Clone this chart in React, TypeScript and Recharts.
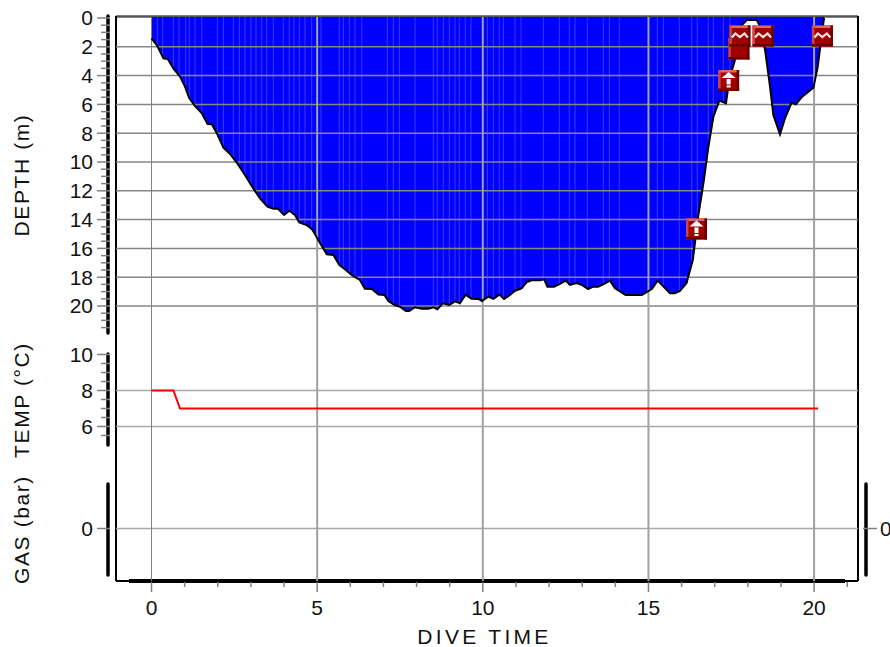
import React from "react";
import { ComposedChart, Area, Line, Scatter, XAxis, YAxis, ReferenceLine } from "recharts";

const profileTimes = [0,0.16,0.36,0.49,0.66,0.86,1.01,1.14,1.31,1.52,1.69,1.82,1.97,2.17,2.37,2.59,2.82,3.07,3.28,3.5,3.68,3.81,4.0,4.16,4.33,4.46,4.68,4.85,5.04,5.29,5.49,5.67,5.84,6.04,6.29,6.44,6.65,6.85,7.03,7.15,7.35,7.5,7.68,7.78,7.95,8.16,8.36,8.51,8.63,8.79,8.99,9.16,9.31,9.48,9.66,9.87,9.97,10.17,10.32,10.5,10.64,10.82,10.97,11.17,11.33,11.48,11.73,11.85,11.95,12.15,12.33,12.5,12.63,12.83,12.98,13.18,13.33,13.48,13.69,13.84,13.99,14.31,14.8,15.1,15.28,15.65,15.8,15.95,16.15,16.34,16.5,16.66,16.81,16.96,17.14,17.34,17.44,17.61,17.82,17.97,18.27,18.35,18.52,18.67,18.77,18.97,19.12,19.32,19.45,19.64,19.98,20.11,20.2,20.3];
const profileDepths = [1.41,1.88,2.8,2.85,3.5,4.07,4.77,5.58,6.11,6.62,7.36,7.38,8.0,9.0,9.44,10.1,10.9,11.83,12.55,13.1,13.24,13.24,13.68,13.38,13.68,14.19,14.38,14.68,15.46,16.41,16.46,17.15,17.45,17.85,18.19,18.8,18.82,19.2,19.24,19.65,19.95,20.05,20.35,20.35,20.09,20.2,20.2,20.09,20.23,19.81,19.93,19.68,19.81,19.21,19.49,19.51,19.65,19.35,19.51,19.21,19.51,19.24,18.94,18.77,18.33,18.22,18.22,18.15,18.66,18.66,18.47,18.24,18.54,18.4,18.52,18.82,18.66,18.66,18.43,18.24,18.77,19.24,19.24,18.82,18.24,19.12,19.12,18.96,18.4,16.8,13.8,11.46,8.94,6.85,5.74,5.92,4.3,2.92,0.49,0.14,0.14,0.49,2.22,4.77,6.74,8.08,6.97,5.88,6.0,5.46,4.84,3.38,1.76,0];
const tempTimes = [0,0.66,0.86,20.12];
const tempValues = [8,8,7,7];
const markerTimes = [16.45,17.42,17.73,17.76,18.46,20.25];
const markerDepths = [14.65,4.34,2.15,1.25,1.25,1.25];
const markerKinds = ["ascent","ascent","plain","wave","wave","wave"];
const stripeTimes = [0.175,0.338,0.658,0.83,1.032,1.141,1.313,1.515,1.986,2.167,2.469,2.65,2.822,3.003,3.154,3.326,3.477,3.676,3.978,4.159,4.301,4.461,4.633,4.835,5.116,5.669,5.789,5.97,6.142,6.345,7.117,7.299,7.48,7.953,8.506,8.627,8.808,8.989,9.161,9.29,9.472,9.644,10.136,10.317,10.498,10.619,10.972,11.153,11.826,12.309,12.611,12.783,13.154,13.637,13.819,14.12,15.267,15.448,15.931,16.305,16.474,16.807,16.958,17.26,17.46];
const xTicks = [0,1,2,3,4,5,6,7,8,9,10,11,12,13,14,15,16,17,18,19,20,21];
const xMajor = [0,5,10,15,20];
const depthTicks = [0,0.5,1,1.5,2,2.5,3,3.5,4,4.5,5,5.5,6,6.5,7,7.5,8,8.5,9,9.5,10,10.5,11,11.5,12,12.5,13,13.5,14,14.5,15,15.5,16,16.5,17,17.5,18,18.5,19,19.5,20,20.5,21,21.5];
const depthGrid = [2,4,6,8,10,12,14,16,18,20];
const tempTicks = [10,9.5,9,8.5,8,7.5,7,6.5,6,5.5];
const tempGrid = [8,6];
const gasTicks = [0];

const profile = profileTimes.map((t, i) => ({ t, depth: profileDepths[i] }));
const temps = tempTimes.map((t, i) => ({ t, temp: tempValues[i] }));
const markers = markerTimes.map((t, i) => ({ t, depth: markerDepths[i], kind: markerKinds[i] }));

const curveAt = (t: number) => {
  const j = profileTimes.findIndex((v) => v >= t);
  const a = profileTimes[j - 1], b = profileTimes[j];
  return profileDepths[j - 1] + ((profileDepths[j] - profileDepths[j - 1]) * (t - a)) / (b - a);
};

const FONT = "'Liberation Sans', Arial, sans-serif";
const GREY = "#868686";
const TICK_SIZE = 21;

const YTick = (props: any) => {
  const { x, y, payload } = props;
  const v = payload.value;
  const major = v % 2 === 0;
  return (
    <g>
      <line x1={x - (major ? 19 : 15)} x2={x - 6} y1={y} y2={y} stroke="#808080" strokeWidth={1.5} />
      {major && (
        <text x={x - 23} y={y + 7.5} textAnchor="end" fontFamily={FONT} fontSize={TICK_SIZE} fill="#111">{v}</text>
      )}
    </g>
  );
};
const RightTick = (props: any) => {
  const { x, y, payload } = props;
  return (
    <g>
      <line x1={x + 5} x2={x + 19} y1={y} y2={y} stroke="#808080" strokeWidth={1.5} />
      <text x={x + 22} y={y + 7.5} fontFamily={FONT} fontSize={TICK_SIZE} fill="#111">{payload.value}</text>
    </g>
  );
};
const XTick = (props: any) => {
  const { x, y, payload } = props;
  const v = payload.value;
  const major = xMajor.includes(v);
  return (
    <g>
      <line x1={x} x2={x} y1={y + 1} y2={y + (major ? 11 : 6)} stroke="#808080" strokeWidth={1.5} />
      {major && (
        <text x={x} y={y + 34.5} textAnchor="middle" fontFamily={FONT} fontSize={TICK_SIZE} fill="#111">{v}</text>
      )}
    </g>
  );
};

const MarkerIcon = (props: any) => {
  const { cx, cy, payload } = props;
  const x = cx - 10.5, y = cy - 10.5;
  const kind = payload.kind;
  return (
    <g>
      <rect x={x} y={y} width={21} height={21} fill="#a00000" />
      <rect x={x} y={y} width={21} height={2.5} fill="#d96a6a" />
      <rect x={x} y={y} width={2.5} height={21} fill="#c84848" />
      <rect x={x} y={y + 18.5} width={21} height={2.5} fill="#6a0000" />
      <rect x={x + 18.5} y={y} width={2.5} height={21} fill="#6a0000" />
      {kind === "wave" && (
        <polyline
          points={`${x + 2.5},${y + 12} ${x + 6},${y + 8} ${x + 10.5},${y + 11.5} ${x + 15},${y + 8} ${x + 18.5},${y + 12}`}
          fill="none" stroke="#ffe6e6" strokeWidth={2.2}
        />
      )}
      {kind === "ascent" && (
        <>
          <polygon points={`${x + 3.5},${y + 8} ${x + 10.5},${y + 2} ${x + 17.5},${y + 8}`} fill="#fff" />
          <rect x={x + 8.5} y={y + 9} width={4} height={5.5} fill="#fff" />
          <rect x={x + 8.5} y={y + 15.5} width={4} height={2} fill="#fff" />
        </>
      )}
      {kind === "plain" && <rect x={x + 3} y={y + 5} width={15} height={2} fill="#e8a0a0" />}
    </g>
  );
};

export default function App() {
  return (
    <div style={{ position: "absolute", left: 0, top: 0, width: 890, height: 647 }}>
      <ComposedChart width={890} height={647} margin={{ top: 17, right: 32, bottom: 66, left: 116 }}>
        <XAxis
          xAxisId={0} dataKey="t" type="number" domain={[-1.0715, 21.325]} ticks={xTicks} interval={0}
          allowDataOverflow height={0.01} axisLine={false} tickLine={false} tickSize={0} tickMargin={0} tick={<XTick />}
        />
        <YAxis yAxisId="depth" type="number" reversed domain={[-0.069, 39.097]} ticks={depthTicks} interval={0}
          allowDataOverflow width={0.01} axisLine={false} tickLine={false} tickSize={0} tickMargin={0} tick={<YTick />} />
        <YAxis yAxisId="temp" type="number" domain={[-2.583, 28.75]} ticks={tempTicks} interval={0}
          allowDataOverflow width={0.01} axisLine={false} tickLine={false} tickSize={0} tickMargin={0} tick={<YTick />} />
        <YAxis yAxisId="gas" type="number" domain={[-1, 9.743]} ticks={gasTicks} interval={0}
          allowDataOverflow width={0.01} axisLine={false} tickLine={false} tickSize={0} tickMargin={0} tick={<YTick />} />
        <YAxis yAxisId="gasRight" orientation="right" type="number" domain={[-1, 9.743]} ticks={gasTicks} interval={0}
          allowDataOverflow width={0.01} axisLine={false} tickLine={false} tickSize={0} tickMargin={0} tick={<RightTick />} />

        <Area data={profile} yAxisId="depth" dataKey="depth" baseValue={-0.069} type="linear" fill="#0000ff" fillOpacity={1} stroke="none" isAnimationActive={false} dot={false} activeDot={false} />
        {stripeTimes.map((t) => (
          <ReferenceLine key={`s${t}`} yAxisId="depth" stroke="#3a3aff" strokeWidth={1}
            segment={[{ x: t, y: -0.069 }, { x: t, y: curveAt(t) }]} />
        ))}
        {depthGrid.map((v) => (
          <ReferenceLine key={`d${v}`} yAxisId="depth" y={v} stroke={GREY} strokeWidth={1.5} />
        ))}
        {tempGrid.map((v) => (
          <ReferenceLine key={`t${v}`} yAxisId="temp" y={v} stroke="#a8a8a8" strokeWidth={1.5} />
        ))}
        {gasTicks.map((v) => (
          <ReferenceLine key={`g${v}`} yAxisId="gas" y={v} stroke="#a8a8a8" strokeWidth={1.5} />
        ))}
        {xMajor.map((v) => (
          <ReferenceLine key={`x${v}`} yAxisId="depth" x={v} stroke={v === 0 ? "#808080" : "#a0a0a0"} strokeWidth={v === 0 ? 1 : 2} />
        ))}
        <Line data={profile} yAxisId="depth" dataKey="depth" type="linear" stroke="#000" strokeWidth={2} dot={false} activeDot={false} isAnimationActive={false} />
        <Line data={temps} yAxisId="temp" dataKey="temp" type="linear" stroke="#ff0000" strokeWidth={2} dot={false} activeDot={false} isAnimationActive={false} />
        <Scatter data={markers} yAxisId="depth" dataKey="depth" shape={<MarkerIcon />} isAnimationActive={false} />

        <line x1={116} x2={858} y1={16.5} y2={16.5} stroke="#555" strokeWidth={2.5} />
        <line x1={116} x2={116} y1={16} y2={581} stroke="#000" strokeWidth={2} />
        <line x1={858} x2={858} y1={16} y2={581} stroke="#000" strokeWidth={2} />
        <line x1={116} x2={858} y1={581} y2={581} stroke="#000" strokeWidth={2} />
        <line x1={129} x2={845} y1={581} y2={581} stroke="#000" strokeWidth={4} />
        <line x1={108} x2={108} y1={16} y2={333} stroke="#000" strokeWidth={3.5} strokeLinecap="round" />
        <line x1={108} x2={108} y1={354} y2={445} stroke="#000" strokeWidth={3.5} strokeLinecap="round" />
        <line x1={108} x2={108} y1={484} y2={575} stroke="#000" strokeWidth={3.5} strokeLinecap="round" />
        <line x1={866} x2={866} y1={484} y2={575} stroke="#000" strokeWidth={3.5} strokeLinecap="round" />

        <text transform="translate(29,175) rotate(-90)" textAnchor="middle" fontFamily={FONT} fontSize={21} letterSpacing={1.6} fill="#111">DEPTH (m)</text>
        <text transform="translate(29,400) rotate(-90)" textAnchor="middle" fontFamily={FONT} fontSize={21} letterSpacing={1.6} fill="#111">TEMP (°C)</text>
        <text transform="translate(29,529.5) rotate(-90)" textAnchor="middle" fontFamily={FONT} fontSize={21} letterSpacing={1.6} fill="#111">GAS (bar)</text>
        <text x={484.5} y={644} textAnchor="middle" fontFamily={FONT} fontSize={21} letterSpacing={3.3} fill="#111">DIVE TIME</text>
      </ComposedChart>
    </div>
  );
}
